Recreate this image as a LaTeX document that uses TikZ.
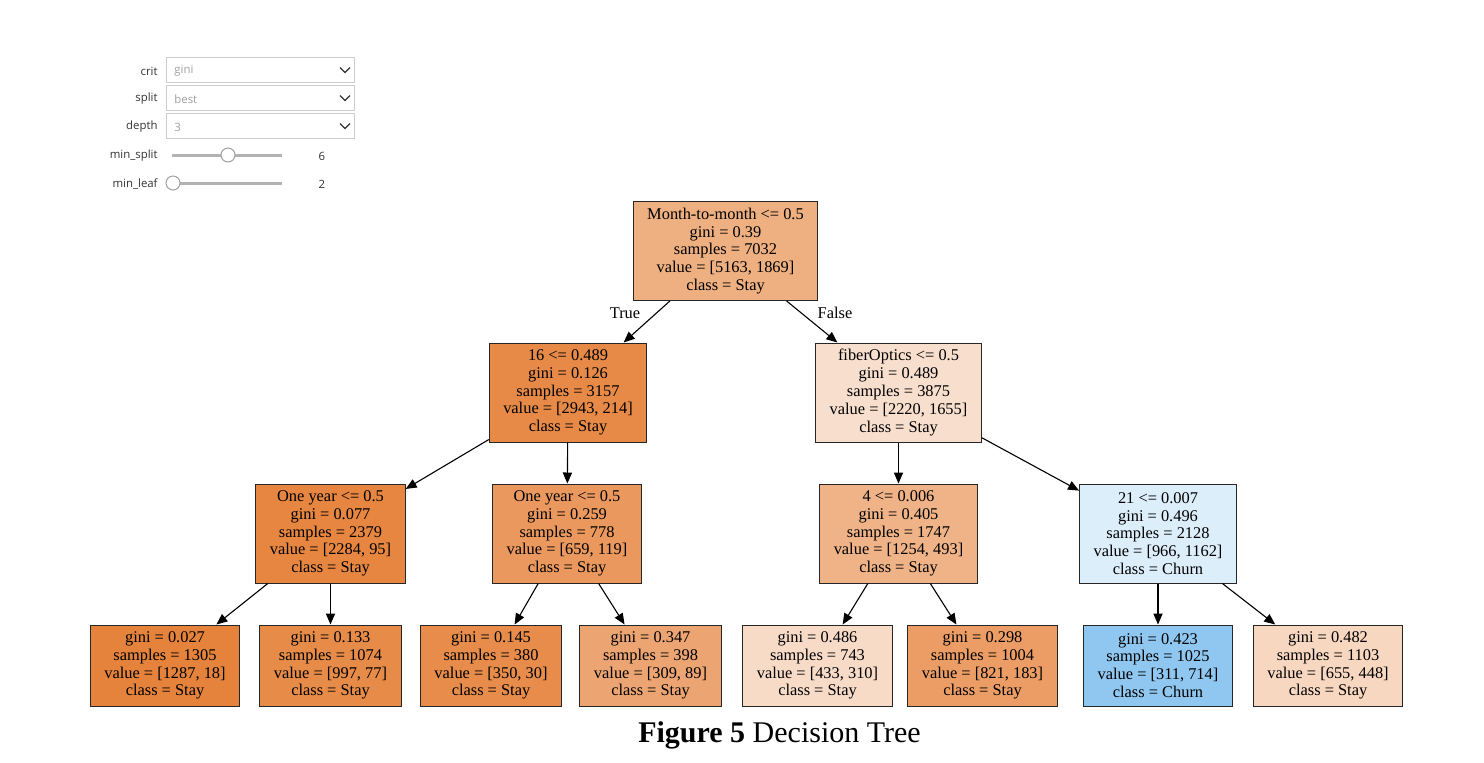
\documentclass[tikz,border=0pt]{standalone}
\usepackage{fontspec}
\setmainfont{Liberation Serif}
\newfontfamily\uifont{Open Sans}
\usetikzlibrary{arrows.meta}

\definecolor{cRoot}{RGB}{238,175,129}
\definecolor{cSixteen}{RGB}{231,138,72}
\definecolor{cFiber}{RGB}{248,223,205}
\definecolor{cYearA}{RGB}{230,134,65}
\definecolor{cYearB}{RGB}{234,152,93}
\definecolor{cFour}{RGB}{239,179,135}
\definecolor{cTwentyOne}{RGB}{221,238,251}
\definecolor{cLeafA}{RGB}{229,131,60}
\definecolor{cLeafB}{RGB}{231,139,72}
\definecolor{cLeafC}{RGB}{231,140,74}
\definecolor{cLeafD}{RGB}{236,165,114}
\definecolor{cLeafE}{RGB}{248,219,199}
\definecolor{cLeafF}{RGB}{235,157,101}
\definecolor{cLeafG}{RGB}{143,199,240}
\definecolor{cLeafH}{RGB}{247,215,192}
\definecolor{uiText}{RGB}{51,51,51}
\definecolor{uiGray}{RGB}{160,160,160}
\definecolor{uiLine}{RGB}{204,204,204}

\begin{document}
\begin{tikzpicture}[x=0.5pt,y=-0.5pt]

    \tikzset{
      treenode/.style={
        draw=black!85,
        line width=0.5pt,
        align=center,
        font=\fontsize{8.2}{8.9}\selectfont,
        inner xsep=7pt,
        inner ysep=2pt,
        minimum height=49.5pt,
      },
      leafnode/.style={treenode, minimum height=40.5pt},
      treearrow/.style={-{Triangle[length=5.5pt,width=4.6pt]}, line width=0.55pt},
      uilabel/.style={font=\uifont\fontsize{5.7}{6}\selectfont, text=uiText, inner sep=0pt},
      uivalue/.style={font=\uifont\fontsize{5.7}{6}\selectfont, text=uiGray, inner sep=0pt},
      dropbox/.style={draw=uiLine, line width=0.5pt},
      chevron/.style={draw=uiText, line width=0.55pt},
      slidertrack/.style={draw=uiGray!80, line width=1.5pt},
      thumb/.style={draw=uiGray, fill=white, line width=0.5pt},
    }
    \useasboundingbox (0,0) rectangle (1484,762);

    % widget panel
    \node[uilabel, anchor=east] (lcrit) at (158,71) {crit};
    \node[uilabel, anchor=east] (lsplit) at (158,99) {split};
    \node[uilabel, anchor=east] (ldepth) at (158,127) {depth};
    \node[uilabel, anchor=east] (lminsplit) at (158,156) {min\_split};
    \node[uilabel, anchor=east] (lminleaf) at (158,184) {min\_leaf};
    \foreach \yy/\txt/\nm in {70/gini/vcrit, 98/best/vsplit, 126/3/vdepth}{
      \draw[dropbox] (166,\yy-12.5) rectangle (354,\yy+12.5);
      \node[uivalue, anchor=west] (\nm) at (174,\yy+1) {\txt};
      \draw[chevron] (340,\yy-2.5) -- (345,\yy+2.5) -- (350,\yy-2.5);
    }
    \draw[slidertrack] (172,155) -- (282,155);
    \draw[thumb] (228,155) circle (7);
    \node[uilabel] (nminsplit) at (322,156) {6};
    \draw[slidertrack] (172,183) -- (282,183);
    \draw[thumb] (173,183) circle (7);
    \node[uilabel] (nminleaf) at (322,184) {2};

    % tree
    \node[treenode, fill=cRoot] (root) at (725.5,251)
      {Month-to-month <= 0.5\\gini = 0.39\\samples = 7032\\value = [5163, 1869]\\class = Stay};
    \node[treenode, fill=cSixteen] (n16) at (568,392.5)
      {16 <= 0.489\\gini = 0.126\\samples = 3157\\value = [2943, 214]\\class = Stay};
    \node[treenode, fill=cFiber] (nfiber) at (898.5,392.5)
      {fiberOptics <= 0.5\\gini = 0.489\\samples = 3875\\value = [2220, 1655]\\class = Stay};
    \node[treenode, fill=cYearA] (nyeara) at (330.5,533.5)
      {One year <= 0.5\\gini = 0.077\\samples = 2379\\value = [2284, 95]\\class = Stay};
    \node[treenode, fill=cYearB] (nyearb) at (567,533.5)
      {One year <= 0.5\\gini = 0.259\\samples = 778\\value = [659, 119]\\class = Stay};
    \node[treenode, fill=cFour] (n4) at (898.5,533.5)
      {4 <= 0.006\\gini = 0.405\\samples = 1747\\value = [1254, 493]\\class = Stay};
    \node[treenode, fill=cTwentyOne] (n21) at (1158,533.5)
      {21 <= 0.007\\gini = 0.496\\samples = 2128\\value = [966, 1162]\\class = Churn};

    \node[leafnode, fill=cLeafA] (leaf1) at (165,665.5)
      {gini = 0.027\\samples = 1305\\value = [1287, 18]\\class = Stay};
    \node[leafnode, fill=cLeafB] (leaf2) at (330.5,665.5)
      {gini = 0.133\\samples = 1074\\value = [997, 77]\\class = Stay};
    \node[leafnode, fill=cLeafC] (leaf3) at (491,665.5)
      {gini = 0.145\\samples = 380\\value = [350, 30]\\class = Stay};
    \node[leafnode, fill=cLeafD] (leaf4) at (650.5,665.5)
      {gini = 0.347\\samples = 398\\value = [309, 89]\\class = Stay};
    \node[leafnode, fill=cLeafE] (leaf5) at (817.5,665.5)
      {gini = 0.486\\samples = 743\\value = [433, 310]\\class = Stay};
    \node[leafnode, fill=cLeafF] (leaf6) at (982.5,665.5)
      {gini = 0.298\\samples = 1004\\value = [821, 183]\\class = Stay};
    \node[leafnode, fill=cLeafG] (leaf7) at (1158,665.5)
      {gini = 0.423\\samples = 1025\\value = [311, 714]\\class = Churn};
    \node[leafnode, fill=cLeafH] (leaf8) at (1328,665.5)
      {gini = 0.482\\samples = 1103\\value = [655, 448]\\class = Stay};

    \foreach \a/\b in {root/n16, root/nfiber, n16/nyeara, n16/nyearb, nfiber/n4, nfiber/n21,
                       nyeara/leaf1, nyeara/leaf2, nyearb/leaf3, nyearb/leaf4,
                       n4/leaf5, n4/leaf6, n21/leaf7, n21/leaf8}
      \draw[treearrow] (\a) -- (\b);

    \node[font=\fontsize{8.2}{9}\selectfont] (ltrue) at (625,313) {True};
    \node[font=\fontsize{8.2}{9}\selectfont] (lfalse) at (835,313) {False};

    % caption
    \node[font=\fontsize{15}{17}\selectfont] (caption) at (779.5,735) {\textbf{Figure 5} Decision Tree};

\end{tikzpicture}
\end{document}
